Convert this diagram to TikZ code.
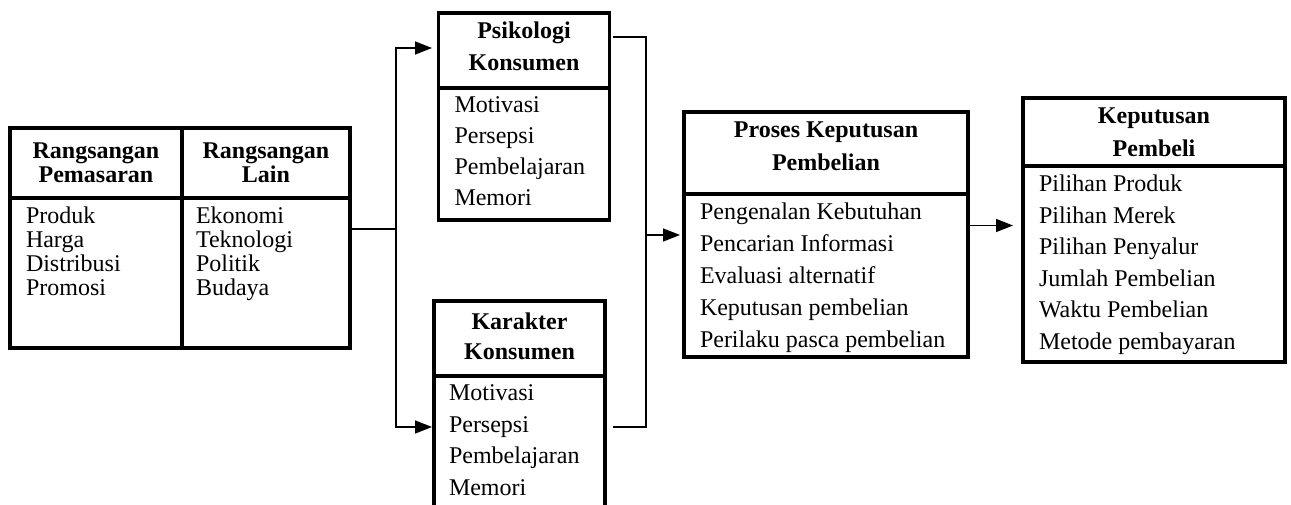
\documentclass[tikz,border=0pt]{standalone}
\usepackage{fontspec}
\setmainfont{Liberation Serif}
\usetikzlibrary{positioning,arrows.meta}

\tikzset{
  head/.style={draw, line width=3.5pt, inner sep=0pt, outer sep=0pt, align=center},
  frame/.style={draw, line width=3.5pt, inner sep=0pt, outer sep=0pt},
  items/.style={inner sep=0pt, outer sep=0pt, align=left},
  link/.style={line width=1.6pt},
  arrow/.style={line width=1.6pt, -{Triangle[length=17pt,width=13pt]}},
}

\begin{document}
\begin{tikzpicture}[x=1pt,y=-1pt]
\useasboundingbox (0,0) rectangle (1291,505);

% rangsangan
\node[head, minimum width=172pt, minimum height=70pt, font=\bfseries\fontsize{24}{24}\selectfont] (rmHead) at (96,163) {Rangsangan\\Pemasaran};
\node[head, minimum width=168pt, minimum height=70pt, font=\bfseries\fontsize{24}{24}\selectfont, right=0pt of rmHead] (rlHead) {Rangsangan\\Lain};
\node[frame, minimum width=172pt, minimum height=150pt, below=0pt of rmHead] (rmBody) {};
\node[frame, minimum width=168pt, minimum height=150pt, below=0pt of rlHead] (rlBody) {};
\node[items, font=\fontsize{24}{24}\selectfont, below right=9pt and 16pt of rmBody.north west] (rmList) {Produk\\Harga\\Distribusi\\Promosi};
\node[items, font=\fontsize{24}{24}\selectfont, below right=9pt and 14pt of rlBody.north west] (rlList) {Ekonomi\\Teknologi\\Politik\\Budaya};

% konsumen
\node[head, minimum width=171pt, minimum height=75pt, font=\bfseries\fontsize{24}{32}\selectfont] (psiHead) at (524,50.5) {Psikologi\\Konsumen\rule[-8pt]{0pt}{0pt}};
\node[frame, minimum width=171pt, minimum height=132pt, below=0pt of psiHead] (psiBody) {};
\node[items, font=\fontsize{24}{31}\selectfont, below right=9pt and 16pt of psiBody.north west] (psiList) {Motivasi\\Persepsi\\Pembelajaran\\Memori};

\node[head, minimum width=171pt, minimum height=75pt, font=\bfseries\fontsize{24}{30}\selectfont] (karHead) at (519.5,338.5) {Karakter\\Konsumen\rule[-5pt]{0pt}{0pt}};
\node[frame, minimum width=171pt, minimum height=150pt, below=0pt of karHead] (karBody) {};
\node[items, font=\fontsize{24}{31.5}\selectfont, below right=9pt and 15pt of karBody.north west] (karList) {Motivasi\\Persepsi\\Pembelajaran\\Memori};

% proses & keputusan
\node[head, minimum width=284pt, minimum height=82pt, font=\bfseries\fontsize{24}{33}\selectfont] (prosHead) at (826,153) {Proses Keputusan\\Pembelian\rule[-13pt]{0pt}{0pt}};
\node[frame, minimum width=284pt, minimum height=163pt, below=0pt of prosHead] (prosBody) {};
\node[items, font=\fontsize{24}{32}\selectfont, below right=9pt and 16pt of prosBody.north west] (prosList) {Pengenalan Kebutuhan\\Pencarian Informasi\\Evaluasi alternatif\\Keputusan pembelian\\Perilaku pasca pembelian};

\node[head, minimum width=262pt, minimum height=68pt, font=\bfseries\fontsize{24}{33}\selectfont] (kepHead) at (1154,132) {Keputusan\\Pembeli};
\node[frame, minimum width=262pt, minimum height=196pt, below=0pt of kepHead] (kepBody) {};
\node[items, font=\fontsize{24}{31.5}\selectfont, below right=9pt and 16pt of kepBody.north west] (kepList) {Pilihan Produk\\Pilihan Merek\\Pilihan Penyalur\\Jumlah Pembelian\\Waktu Pembelian\\Metode pembayaran};

% connectors
\coordinate (fork) at (396,229);
\coordinate (psiIn) at (438,48);
\coordinate (karIn) at (434,427);
\coordinate (psiOut) at (613,37);
\coordinate (karOut) at (613,427);
\coordinate (join) at (646,235);

\draw[link] (rlBody.east |- fork) -- (fork);
\draw[arrow, shorten >=6pt] (fork) |- (psiIn);
\draw[arrow, shorten >=2pt] (fork) |- (karIn);
\draw[link] (psiOut) -| (join) |- (karOut);
\draw[arrow, shorten >=4pt] (join) -- (join -| prosBody.west);
\draw[arrow, shorten >=10pt] ([yshift=50pt]prosBody.east) -- ([yshift=50pt]prosBody.east -| kepBody.west);

\end{tikzpicture}
\end{document}
